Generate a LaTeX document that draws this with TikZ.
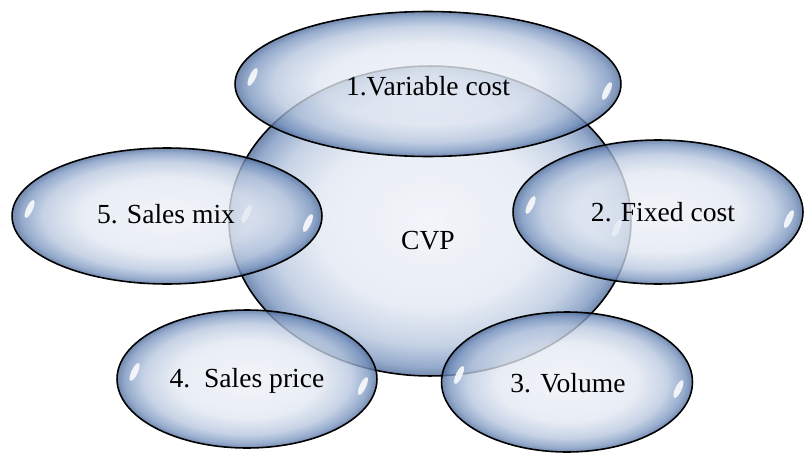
\documentclass[tikz,border=0pt]{standalone}
\usepackage{fontspec}
\setmainfont{Liberation Serif}
\usepackage{tikz}
\usetikzlibrary{shapes.geometric, calc}
\definecolor{bubcore}{HTML}{EEF2F8}
\definecolor{bubmid}{HTML}{E2E8F2}
\definecolor{bubring}{HTML}{B6C6DE}
\definecolor{bubedge}{HTML}{7893BE}
\definecolor{bubrim}{HTML}{4A6998}
\pgfdeclareradialshading{bubble}{\pgfpoint{0bp}{0bp}}{color(0bp)=(bubcore); color(14bp)=(bubmid); color(20bp)=(bubring); color(23.5bp)=(bubedge); color(25bp)=(bubrim); color(50bp)=(bubrim)}

\begin{document}
\begin{tikzpicture}[x=0.02cm, y=-0.02cm,
    bubble/.style={ellipse, draw=black, line width=0.9pt, inner sep=0pt, outer sep=0pt,
        shading=bubble, fill opacity=0.78,
        path picture={
            \fill[white, fill opacity=0.85] ($(path picture bounding box.west)+(10pt,4pt)$)
                circle [x radius=1.8pt, y radius=5.5pt, rotate=-25];
            \fill[white, fill opacity=0.85] ($(path picture bounding box.east)+(-8pt,-4pt)$)
                circle [x radius=1.8pt, y radius=5.5pt, rotate=-25];
        }},
    lbl/.style={font=\fontsize{15.7}{19}\selectfont, inner sep=0pt}]
    \useasboundingbox (0,0) rectangle (804,453);
    \node[bubble, minimum width=8.04cm, minimum height=6.2cm] (cvp) at (430,221) {};
    \node[bubble, minimum width=7.72cm, minimum height=2.9cm] (varcost) at (428,84) {};
    \node[bubble, minimum width=6.2cm, minimum height=2.72cm] (salesmix) at (167,216) {};
    \node[bubble, minimum width=5.8cm, minimum height=2.88cm] (fixcost) at (658,212) {};
    \node[bubble, minimum width=5.2cm, minimum height=2.76cm] (salesprice) at (247,379) {};
    \node[bubble, minimum width=5.02cm, minimum height=2.8cm] (volume) at (567,382) {};
    \node[lbl] (cvp-t) at (428,241) {CVP};
    \node[lbl] (varcost-t) at (428,86) {1.Variable cost};
    \node[lbl] (fixcost-t) at (663,212) {2. Fixed cost};
    \node[lbl] (volume-t) at (568,383) {3. Volume};
    \node[lbl] (salesprice-t) at (247,381) {4.\ \ Sales price};
    \node[lbl] (salesmix-t) at (166,214) {5. Sales mix};
\end{tikzpicture}
\end{document}
